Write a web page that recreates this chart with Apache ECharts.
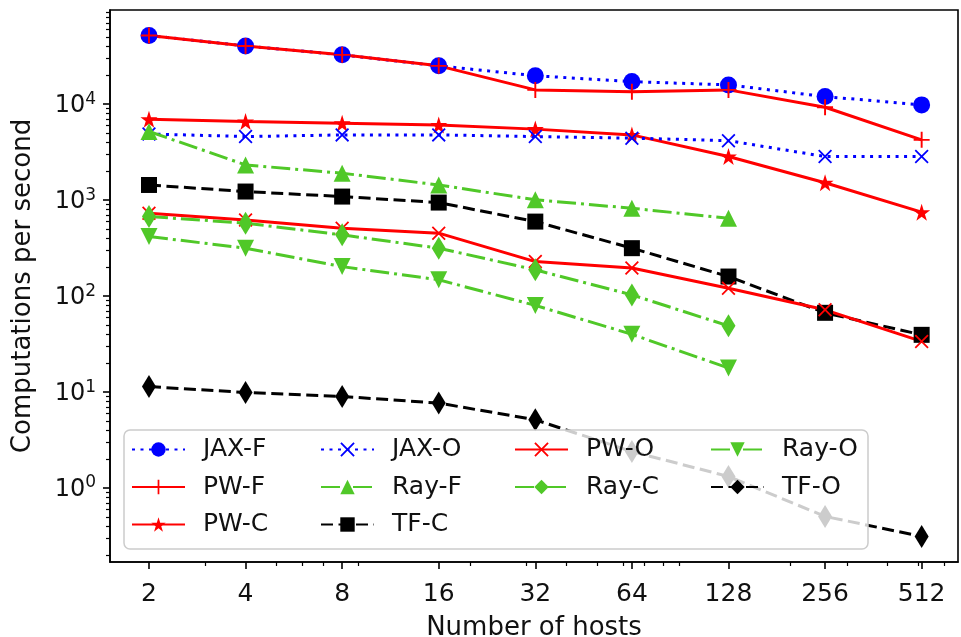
<!DOCTYPE html>
<html><head><meta charset="utf-8">
<script src="https://cdn.jsdelivr.net/npm/echarts@6/dist/echarts.min.js"></script>
<style>html,body{margin:0;padding:0;background:#fff}#c{width:961px;height:637px}</style>
</head><body><div id="c"></div>
<script>
// ---- data ----
const hosts = [2, 4, 8, 16, 32, 64, 128, 256, 512];
const hostsRay = [2, 4, 8, 16, 32, 64, 128];
const jaxF = [52000, 40500, 32700, 25100, 19800, 17200, 15900, 12000, 9840];
const pwF  = [52000, 40500, 32700, 25100, 14100, 13500, 14100, 9300, 4250];
const pwC  = [6980, 6590, 6340, 6080, 5500, 4790, 2850, 1520, 750];
const jaxO = [4900, 4600, 4790, 4790, 4600, 4430, 4170, 2850, 2850];
const rayF = [5200, 2330, 1910, 1440, 1010, 823, 648];
const tfC  = [1440, 1230, 1090, 944, 598, 316, 160, 67, 39.5];
const pwO  = [732, 623, 511, 453, 229, 196, 121, 72, 33.7];
const rayC = [675, 576, 435, 316, 188, 103, 49];
const rayO = [418, 316, 203, 148, 80, 40, 17.8];
const tfO  = [11.4, 9.9, 9.0, 7.68, 5.14, 2.4, 1.32, 0.506, 0.313];
const xTickValues = [2, 4, 8, 16, 32, 64, 128, 256, 512];
const xMinorTicks = [3, 5, 6, 7, 9, 20, 30, 40, 50, 60, 70, 80, 90, 200, 300, 400, 500, 600];
const yTickValues = [1, 10, 100, 1000, 10000];
const yMinorTicks = [0.2,0.3,0.4,0.5,0.6,0.7,0.8,0.9, 2,3,4,5,6,7,8,9, 20,30,40,50,60,70,80,90,
  200,300,400,500,600,700,800,900, 2000,3000,4000,5000,6000,7000,8000,9000,
  20000,30000,40000,50000,60000,70000,80000,90000];

// ---- styles ----
const FONT = 'DejaVu Sans';
const TXT = '#111';
const BLUE = '#0000ff', RED = '#ff0000', GREEN = '#50c828', BLACK = '#000000';
const DOT = [3, 5.5], DASH = [12, 5.5], DASHDOT = [19, 5, 3, 5];

function starPath() {
  let s = 'path://';
  for (let i = 0; i < 10; i++) {
    const r = i % 2 === 0 ? 50 : 19.1;
    const a = -Math.PI / 2 + i * Math.PI / 5;
    s += (i === 0 ? 'M' : 'L') + (50 + r * Math.cos(a)).toFixed(2) + ',' + (50 + r * Math.sin(a)).toFixed(2);
  }
  return s + 'Z';
}
const SYM_PLUS = 'path://M44,0H56V44H100V56H56V100H44V56H0V44H44Z';
const SYM_X = 'path://M0,9L9,0L50,41L91,0L100,9L59,50L100,91L91,100L50,59L9,100L0,91L41,50Z';
const SYM_STAR = starPath();
const SYM_TDOWN = 'path://M0,0L2,0L1,2Z';

function mk(name, xs, ys, color, dash, symbol, size) {
  return {
    name, type: 'line', xAxisIndex: 0, yAxisIndex: 0,
    data: xs.map((x, i) => [x, ys[i]]),
    symbol, symbolSize: size, showSymbol: true,
    itemStyle: { color },
    lineStyle: { color, width: 3, type: dash, cap: 'butt' },
    emphasis: { disabled: true }, silent: true, animation: false
  };
}

const series = [
  mk('JAX-F', hosts, jaxF, BLUE, DOT, 'circle', 17),
  mk('PW-F', hosts, pwF, RED, 'solid', SYM_PLUS, 16),
  mk('PW-C', hosts, pwC, RED, 'solid', SYM_STAR, 17),
  mk('JAX-O', hosts, jaxO, BLUE, DOT, SYM_X, 14),
  mk('Ray-F', hostsRay, rayF, GREEN, DASHDOT, 'triangle', 17),
  mk('TF-C', hosts, tfC, BLACK, DASH, 'rect', 16),
  mk('PW-O', hosts, pwO, RED, 'solid', SYM_X, 14),
  mk('Ray-C', hostsRay, rayC, GREEN, DASHDOT, 'diamond', [14, 23]),
  mk('Ray-O', hostsRay, rayO, GREEN, DASHDOT, SYM_TDOWN, 17),
  mk('TF-O', hosts, tfO, BLACK, DASH, 'diamond', [14, 23])
];

const legendCols = [
  ['JAX-F', 'PW-F', 'PW-C'],
  ['JAX-O', 'Ray-F', 'TF-C'],
  ['PW-O', 'Ray-C'],
  ['Ray-O', 'TF-O']
];
const legendLefts = [131, 320, 514, 710];
const legends = legendCols.map((col, i) => ({
  data: col, orient: 'vertical', left: legendLefts[i], top: 437,
  itemWidth: 53, itemHeight: 18, itemGap: 12.5, padding: 0,
  selectedMode: false, z: 6,
  textStyle: { fontFamily: FONT, fontSize: 25, lineHeight: 25, color: TXT, padding: [0, 0, 0, 13] }
}));

const X_MIN = 1.512, X_MAX = 664.6, Y_MIN = 0.1695, Y_MAX = 95900;
const axisLineStyle = { color: '#000', width: 1.6 };

const option = {
  backgroundColor: '#fff',
  animation: false,
  grid: { left: 110, top: 10, width: 848, height: 552, show: true, borderColor: '#000', borderWidth: 1.6,
          backgroundColor: 'transparent', containLabel: false, outerBoundsMode: 'none' },
  graphic: [{
    type: 'rect', z: 5, silent: true,
    shape: { x: 124, y: 430, width: 744, height: 119, r: 6 },
    style: { fill: 'rgba(255,255,255,0.8)', stroke: '#cccccc', lineWidth: 1.5 }
  }],
  legend: legends,
  xAxis: [{
    type: 'log', logBase: 2, min: X_MIN, max: X_MAX, position: 'bottom',
    axisLine: { show: true, lineStyle: axisLineStyle },
    axisTick: { show: true, customValues: xTickValues, length: 7, lineStyle: { color: '#000', width: 1.6 } },
    axisLabel: { show: true, customValues: xTickValues, margin: 20, fontFamily: FONT, fontSize: 25, color: TXT },
    splitLine: { show: false }, minorTick: { show: false },
    name: 'Number of hosts', nameLocation: 'middle', nameGap: 53,
    nameTextStyle: { fontFamily: FONT, fontSize: 26, color: TXT }
  }, {
    type: 'log', logBase: 2, min: X_MIN, max: X_MAX, position: 'bottom',
    axisLine: { show: false },
    axisTick: { show: true, customValues: xMinorTicks, length: 4, lineStyle: { color: '#000', width: 1.2 } },
    axisLabel: { show: false }, splitLine: { show: false }
  }],
  yAxis: [{
    type: 'log', logBase: 10, min: Y_MIN, max: Y_MAX, position: 'left',
    axisLine: { show: true, lineStyle: axisLineStyle },
    axisTick: { show: true, customValues: yTickValues, length: 7, lineStyle: { color: '#000', width: 1.6 } },
    axisLabel: {
      show: true, customValues: yTickValues, margin: 14,
      formatter: v => '{b|10}{s|' + Math.round(Math.log10(v)) + '}',
      rich: {
        b: { fontFamily: FONT, fontSize: 24, lineHeight: 27, color: TXT, verticalAlign: 'bottom' },
        s: { fontFamily: FONT, fontSize: 17, lineHeight: 17, color: TXT, verticalAlign: 'top' }
      }
    },
    splitLine: { show: false }, minorTick: { show: false },
    name: 'Computations per second', nameLocation: 'middle', nameGap: 74, nameRotate: 90,
    nameTextStyle: { fontFamily: FONT, fontSize: 26, color: TXT }
  }, {
    type: 'log', logBase: 10, min: Y_MIN, max: Y_MAX, position: 'left',
    axisLine: { show: false },
    axisTick: { show: true, customValues: yMinorTicks, length: 4, lineStyle: { color: '#000', width: 1.2 } },
    axisLabel: { show: false }, splitLine: { show: false }
  }],
  series
};

const chart = echarts.init(document.getElementById('c'), null, { renderer: 'canvas' });
chart.setOption(option);
</script>
</body></html>
